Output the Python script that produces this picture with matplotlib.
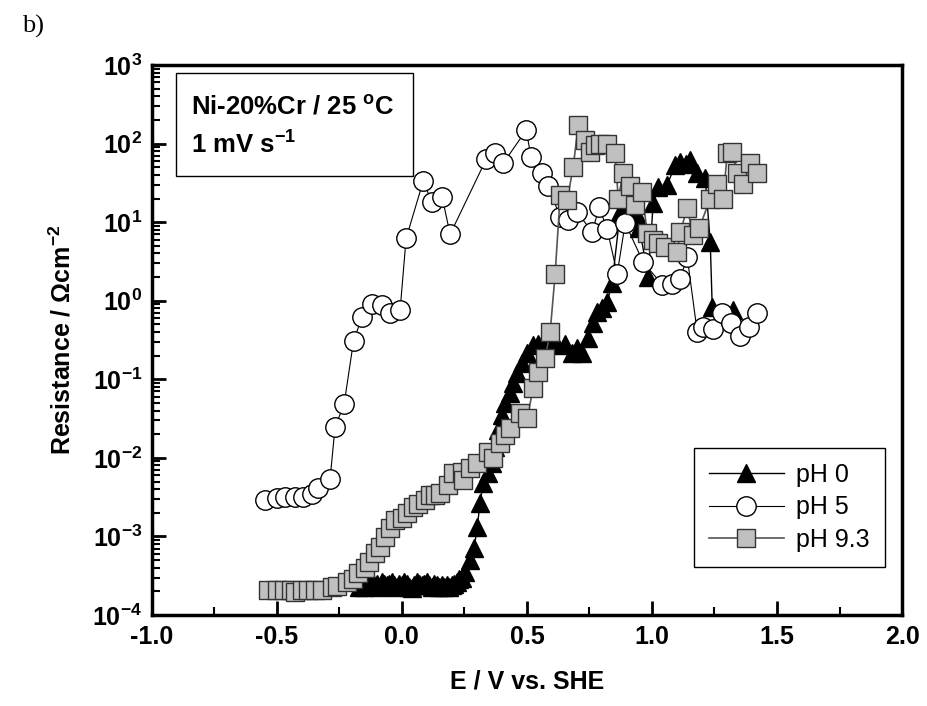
import matplotlib
matplotlib.use('Agg')
import matplotlib.pyplot as plt
from matplotlib.patches import Rectangle
from matplotlib.ticker import FixedLocator, LogLocator, MultipleLocator, NullFormatter

# pH 0 (black triangles)
E_ph0 = [-0.17, -0.16, -0.15, -0.14, -0.13, -0.12, -0.11, -0.10, -0.09, -0.08,
         -0.07, -0.06, -0.05, -0.04, -0.03, -0.02, -0.01, 0.00, 0.01, 0.02,
         0.03, 0.04, 0.05, 0.06, 0.07, 0.08, 0.09, 0.10, 0.11, 0.12,
         0.13, 0.14, 0.15, 0.16, 0.17, 0.18, 0.19, 0.20, 0.21, 0.22,
         0.23, 0.24, 0.253, 0.273, 0.289, 0.301, 0.313, 0.325, 0.345, 0.361,
         0.373, 0.385, 0.401, 0.413, 0.433, 0.445, 0.461, 0.481, 0.501, 0.525,
         0.545, 0.561, 0.58, 0.60, 0.62, 0.653, 0.681, 0.70, 0.721, 0.745,
         0.765, 0.781, 0.80, 0.821, 0.841, 0.873, 0.90, 0.945, 0.95, 0.985,
         1.005, 1.025, 1.061, 1.093, 1.113, 1.135, 1.153, 1.181, 1.213, 1.233,
         1.241, 1.325]
R_ph0 = [2.3e-4, 2.4e-4, 2.3e-4, 2.5e-4, 2.4e-4, 2.6e-4, 2.4e-4, 2.5e-4, 2.3e-4, 2.6e-4,
         2.5e-4, 2.4e-4, 2.5e-4, 2.6e-4, 2.4e-4, 2.3e-4, 2.5e-4, 2.4e-4, 2.6e-4, 2.5e-4,
         2.3e-4, 2.2e-4, 2.4e-4, 2.6e-4, 2.5e-4, 2.4e-4, 2.5e-4, 2.6e-4, 2.4e-4, 2.3e-4,
         2.5e-4, 2.4e-4, 2.3e-4, 2.4e-4, 2.3e-4, 2.4e-4, 2.3e-4, 2.4e-4, 2.5e-4, 2.6e-4,
         2.9e-4, 3.0e-4, 3.5e-4, 5.0e-4, 7.1e-4, 1.3e-3, 2.7e-3, 4.8e-3, 6.5e-3, 8.6e-3,
         0.0137, 0.0226, 0.035, 0.05, 0.067, 0.09, 0.12, 0.16, 0.215, 0.27,
         0.28, 0.28, 0.29, 0.28, 0.27, 0.28, 0.215, 0.25, 0.215, 0.34,
         0.52, 0.72, 0.80, 0.96, 1.7, 13.4, 15.5, 11.6, 8.4, 2.0,
         17.5, 28, 30, 53, 58, 55, 62, 42, 36, 5.6,
         0.83, 0.76]

# pH 5 (open circles)
E_ph5 = [-0.547, -0.499, -0.467, -0.427, -0.395, -0.359, -0.335, -0.287, -0.267, -0.231,
         -0.193, -0.159, -0.119, -0.079, -0.047, -0.007, 0.017, 0.085, 0.121, 0.161,
         0.193, 0.337, 0.373, 0.405, 0.497, 0.517, 0.561, 0.585, 0.633, 0.665,
         0.701, 0.761, 0.789, 0.821, 0.861, 0.893, 0.965, 1.041, 1.081, 1.113,
         1.141, 1.181, 1.205, 1.245, 1.281, 1.317, 1.353, 1.389, 1.421]
R_ph5 = [2.9e-3, 3.1e-3, 3.2e-3, 3.2e-3, 3.2e-3, 3.5e-3, 4.1e-3, 5.4e-3, 0.0247, 0.048,
         0.31, 0.62, 0.90, 0.88, 0.69, 0.76, 6.2, 33, 18, 21,
         7.0, 63, 75, 56, 148, 67, 42, 29, 11.6, 10.6,
         13.4, 7.5, 15.5, 8.1, 2.2, 9.7, 3.1, 1.6, 1.65, 1.9,
         3.6, 0.40, 0.46, 0.44, 0.69, 0.52, 0.36, 0.46, 0.69]

# pH 9.3 (grey squares)
E_ph93 = [-0.535, -0.499, -0.471, -0.443, -0.427, -0.399, -0.375, -0.347, -0.319, -0.279,
          -0.259, -0.219, -0.195, -0.175, -0.147, -0.131, -0.107, -0.087, -0.067, -0.047,
          -0.027, 0.001, 0.021, 0.045, 0.065, 0.093, 0.113, 0.133, 0.153, 0.185,
          0.205, 0.241, 0.245, 0.273, 0.301, 0.345, 0.365, 0.393, 0.413, 0.433,
          0.473, 0.501, 0.525, 0.545, 0.573, 0.593, 0.613, 0.633, 0.661, 0.685,
          0.705, 0.733, 0.753, 0.773, 0.793, 0.821, 0.853, 0.865, 0.885, 0.913,
          0.933, 0.961, 0.981, 1.005, 1.025, 1.053, 1.101, 1.113, 1.141, 1.165,
          1.189, 1.233, 1.261, 1.285, 1.301, 1.321, 1.341, 1.365, 1.393, 1.421]
R_ph93 = [2.1e-4, 2.1e-4, 2.1e-4, 2.1e-4, 1.96e-4, 2.1e-4, 2.1e-4, 2.1e-4, 2.1e-4, 2.3e-4,
          2.34e-4, 2.6e-4, 2.9e-4, 3.4e-4, 4.0e-4, 4.7e-4, 6.2e-4, 7.3e-4, 9.8e-4, 1.28e-3,
          1.62e-3, 1.7e-3, 2.0e-3, 2.4e-3, 2.6e-3, 2.9e-3, 3.4e-3, 3.4e-3, 3.6e-3, 4.5e-3,
          6.4e-3, 6.6e-3, 5.2e-3, 7.4e-3, 8.6e-3, 0.0119, 9.9e-3, 0.0154, 0.0195, 0.024,
          0.037, 0.032, 0.077, 0.124, 0.186, 0.40, 2.2, 22, 19, 50,
          171, 110, 78, 95, 100, 100, 75, 20, 42, 29,
          16.5, 24, 7.2, 5.9, 5.5, 4.8, 4.2, 7.5, 15, 6.8,
          8.4, 20, 31, 20, 75, 78, 42, 31, 56, 42]

y_decades = [1e-4, 1e-3, 1e-2, 1e-1, 1e0, 1e1, 1e2, 1e3]

plt.rcParams['font.family'] = ['Liberation Sans', 'DejaVu Sans']
plt.rcParams['mathtext.fontset'] = 'custom'
plt.rcParams['mathtext.rm'] = 'Liberation Sans:bold'
plt.rcParams['mathtext.it'] = 'Liberation Sans:bold'
plt.rcParams['mathtext.bf'] = 'Liberation Sans:bold'
plt.rcParams['axes.unicode_minus'] = False

fig = plt.figure(figsize=(9.27, 7.06), dpi=100)
ax = fig.add_axes([0.1637, 0.1289, 0.8094, 0.779])

ax.plot(E_ph0, R_ph0, '-^', color='black', mfc='black', mec='black',
        ms=13, lw=1.0, label='pH 0')
ax.plot(E_ph5, R_ph5, '-o', color='black', mfc='white', mec='black',
        ms=14, mew=1.0, lw=0.8, label='pH 5')
ax.plot(E_ph93, R_ph93, '-s', color='#555555', mfc='#c0c0c0', mec='#333333',
        ms=13, mew=1.0, lw=1.2, label='pH 9.3')

ax.set_yscale('log')
ax.set_xlim(-1.0, 2.0)
ax.set_ylim(1e-4, 1e3)
ax.xaxis.set_major_locator(MultipleLocator(0.5))
ax.xaxis.set_minor_locator(MultipleLocator(0.25))
ax.xaxis.set_major_formatter(plt.FormatStrFormatter('%.1f'))
ax.yaxis.set_major_locator(FixedLocator(y_decades))
ax.yaxis.set_minor_locator(LogLocator(base=10, subs=range(2, 10), numticks=20))
ax.yaxis.set_minor_formatter(NullFormatter())

ax.tick_params(which='major', direction='in', length=10, width=2, labelsize=18, pad=7)
ax.tick_params(which='minor', direction='in', length=6, width=1.5)
for lab in ax.get_xticklabels() + ax.get_yticklabels():
    lab.set_fontweight('bold')
for sp in ax.spines.values():
    sp.set_linewidth(2.5)

ax.set_xlabel('E / V vs. SHE', fontsize=18, fontweight='bold', labelpad=15)
ax.set_ylabel('Resistance / \u03a9cm$^{-2}$', fontsize=18, fontweight='bold', labelpad=12)

# info box
ax.add_patch(Rectangle((0.032, 0.798), 0.316, 0.187, transform=ax.transAxes,
                       fill=False, edgecolor='black', lw=1.0))
ax.text(0.052, 0.924, 'Ni-20%Cr / 25 $^{o}$C', transform=ax.transAxes,
        fontsize=18.5, fontweight='bold', va='center')
ax.text(0.052, 0.855, '1 mV s$^{-1}$', transform=ax.transAxes,
        fontsize=18.5, fontweight='bold', va='center')

leg = ax.legend(loc='lower right', bbox_to_anchor=(0.977, 0.087), fontsize=18,
                frameon=True, fancybox=False, edgecolor='black', framealpha=1,
                handlelength=3.0, borderaxespad=0, borderpad=0.6, labelspacing=0.35,
                handletextpad=0.5)
leg.get_frame().set_linewidth(1.0)

fig.text(0.024, 0.963, 'b)', fontsize=19, family='Liberation Serif', va='center')

fig.savefig('out.png', dpi=100)
